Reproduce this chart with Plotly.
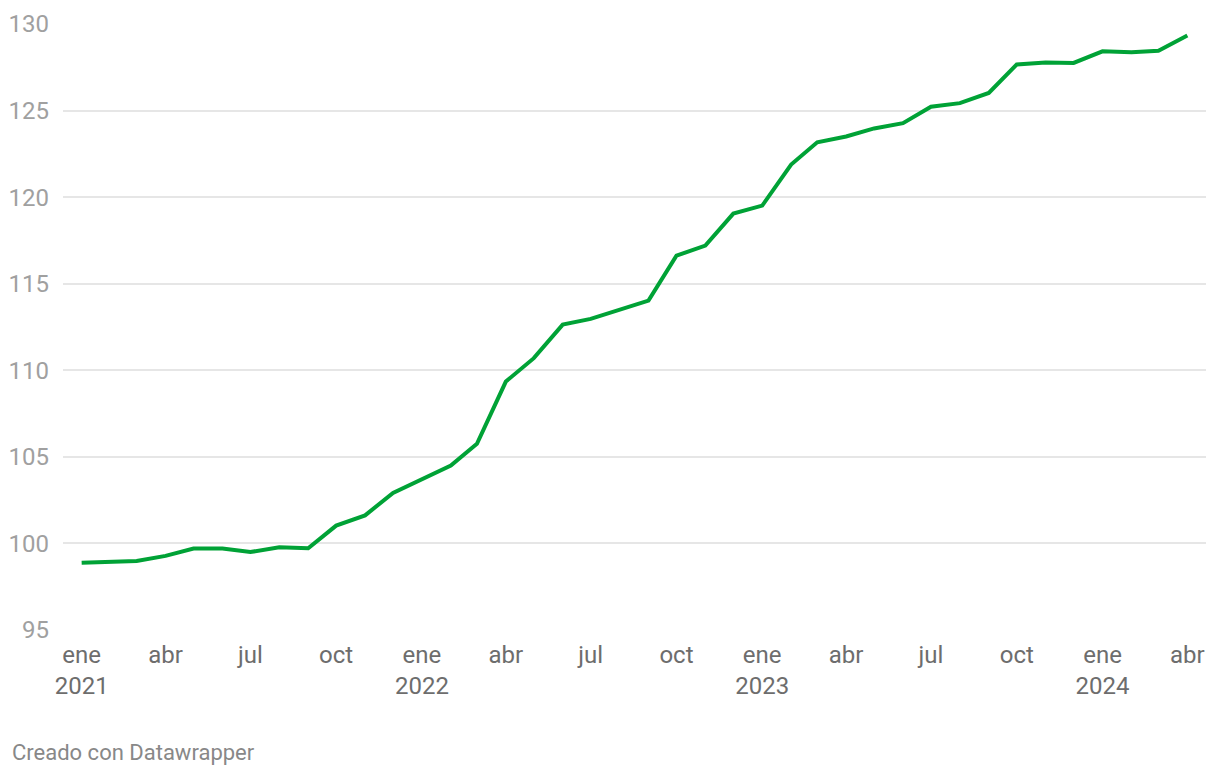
import plotly.graph_objects as go

# monthly index values, ene 2021 .. abr 2024
months = [
    "2021-01-01", "2021-02-01", "2021-03-01", "2021-04-01", "2021-05-01", "2021-06-01",
    "2021-07-01", "2021-08-01", "2021-09-01", "2021-10-01", "2021-11-01", "2021-12-01",
    "2022-01-01", "2022-02-01", "2022-03-01", "2022-04-01", "2022-05-01", "2022-06-01",
    "2022-07-01", "2022-08-01", "2022-09-01", "2022-10-01", "2022-11-01", "2022-12-01",
    "2023-01-01", "2023-02-01", "2023-03-01", "2023-04-01", "2023-05-01", "2023-06-01",
    "2023-07-01", "2023-08-01", "2023-09-01", "2023-10-01", "2023-11-01", "2023-12-01",
    "2024-01-01", "2024-02-01", "2024-03-01", "2024-04-01",
]
values = [
    98.88, 98.95, 98.99, 99.28, 99.70, 99.70,
    99.50, 99.78, 99.72, 101.03, 101.62, 102.92,
    103.68, 104.50, 105.75, 109.35, 110.70, 112.64,
    112.97, 113.49, 114.02, 116.62, 117.20, 119.05,
    119.51, 121.88, 123.17, 123.50, 123.97, 124.27,
    125.22, 125.43, 126.02, 127.66, 127.78, 127.75,
    128.42, 128.37, 128.46, 129.33,
]

tick_dates = [
    "2021-01-01", "2021-04-01", "2021-07-01", "2021-10-01",
    "2022-01-01", "2022-04-01", "2022-07-01", "2022-10-01",
    "2023-01-01", "2023-04-01", "2023-07-01", "2023-10-01",
    "2024-01-01", "2024-04-01",
]
tick_text = [
    "ene<br>2021", "abr", "jul", "oct",
    "ene<br>2022", "abr", "jul", "oct",
    "ene<br>2023", "abr", "jul", "oct",
    "ene<br>2024", "abr",
]
y_ticks = [95, 100, 105, 110, 115, 120, 125, 130]

fig = go.Figure()
fig.add_trace(go.Scatter(
    x=months,
    y=values,
    mode="lines",
    line=dict(color="#00a236", width=4),
    hoverinfo="x+y",
))

# the page body adds an 8px offset, so the figure is 8px smaller on each side
fig.update_layout(
    width=1212,
    height=768,
    margin=dict(l=55, r=14, t=16, b=146),
    paper_bgcolor="white",
    plot_bgcolor="white",
    showlegend=False,
    font=dict(family="Roboto", size=24, color="#6d6d6d"),
    xaxis=dict(
        type="date",
        range=["2020-12-12", "2024-04-21"],
        tickvals=tick_dates,
        ticktext=tick_text,
        showgrid=False,
        zeroline=False,
        showline=False,
        ticks="",
        automargin=False,
        ticklabelstandoff=8,
        tickfont=dict(size=24, color="#6d6d6d"),
    ),
    yaxis=dict(
        range=[95, 130],
        tickvals=y_ticks,
        showgrid=True,
        gridcolor="#e6e6e6",
        gridwidth=1.6,
        zeroline=False,
        showline=False,
        ticks="",
        automargin=False,
        ticklabelstandoff=13,
        tickfont=dict(size=24, color="#a0a0a0"),
    ),
    annotations=[dict(
        text="Creado con Datawrapper",
        xref="paper", yref="paper",
        x=0, y=0,
        xshift=-53, yshift=-122,
        xanchor="left", yanchor="middle",
        showarrow=False,
        font=dict(family="Roboto", size=22, color="#888888"),
    )],
)

fig.write_html("out.html")
